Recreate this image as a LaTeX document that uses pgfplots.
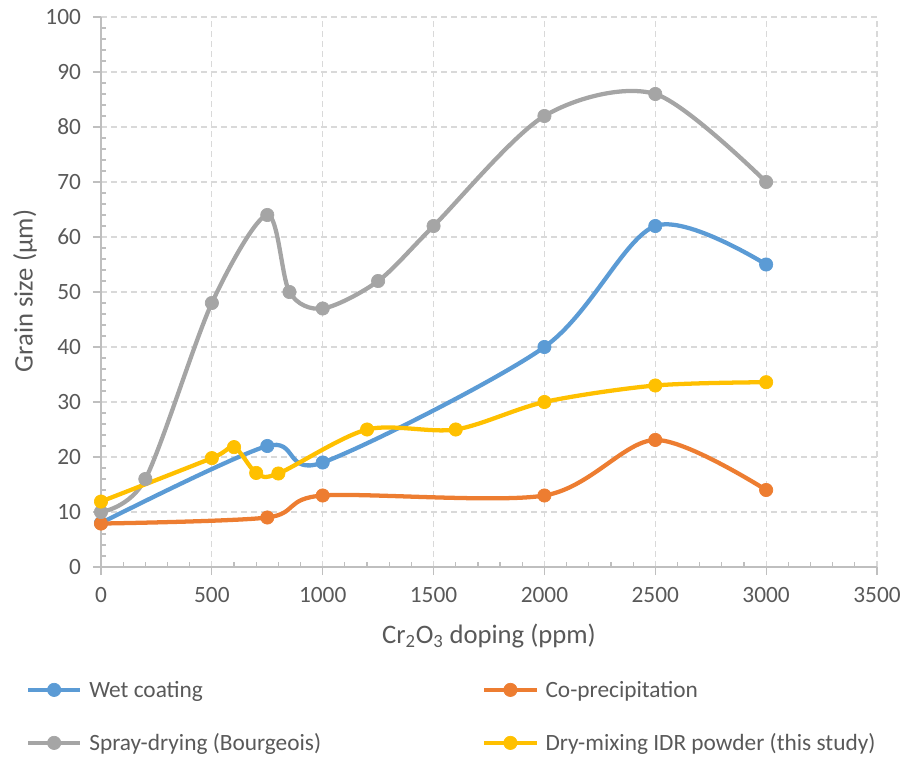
\documentclass[border=0pt]{standalone}
\usepackage{pgfplots}
\pgfplotsset{compat=1.18}
\usepackage{fontspec}
\setmainfont{Carlito}
\definecolor{cblue}{HTML}{5B9BD5}
\definecolor{corange}{HTML}{ED7D31}
\definecolor{cgrey}{HTML}{A5A5A5}
\definecolor{cyellow}{HTML}{FFC000}
\definecolor{txt}{HTML}{595959}
\definecolor{axc}{HTML}{BFBFBF}
\definecolor{gridc}{HTML}{D9D9D9}
\begin{document}
\begin{tikzpicture}
\useasboundingbox (-75.75pt,-142.5pt) rectangle (600pt,425.25pt);
\begin{axis}[
  at={(0,0)}, anchor=south west,
  scale only axis, width=582pt, height=412.5pt,
  xmin=0, xmax=3500, ymin=0, ymax=100,
  axis lines=left,
  axis line style={-, draw=axc, line width=1pt},
  xtick={0,500,...,3500}, ytick={0,10,...,100},
  minor x tick num=4, minor y tick num=4,
  grid=major,
  major grid style={gridc, dash pattern=on 4.5pt off 3pt, line width=0.9pt},
  tick align=outside, major tick length=6pt, minor tick length=3.75pt,
  tick style={axc, line width=0.9pt},
  minor x tick style={yshift=3.75pt},
  minor y tick style={xshift=3.75pt},
  tick label style={font=\fontsize{17.5}{21}\selectfont, text=txt},
  /pgf/number format/assume math mode=true,
  scaled ticks=false,
  xticklabel style={/pgf/number format/1000 sep={}, yshift=-5.5pt},
  yticklabel style={xshift=-5.5pt},
  label style={font=\fontsize{20}{24}\selectfont, text=txt},
  xlabel={Cr\textsubscript{2}O\textsubscript{3} doping (ppm)},
  ylabel={Grain size (μm)},
  xlabel style={at={(axis description cs:0.5,-0.1255)}, anchor=center},
  ylabel style={at={(axis description cs:-0.0979,0.502)}, anchor=center},
  clip=false,
  legend columns=2,
  legend style={draw=none, fill=none, at={(axis description cs:-0.0966,-0.2055)}, anchor=north west,
    inner sep=0pt, outer sep=0pt, row sep=22.25pt, column sep=0pt,
    font=\fontsize{17.5}{21}\selectfont, text=txt,
    nodes={inner sep=0pt, text height=13pt, text depth=4.5pt},
    cells={anchor=base west}},
  legend image code/.code={\draw[mark repeat=2,mark phase=2] plot coordinates {(0pt,5.6pt)(19.5pt,5.6pt)(39pt,5.6pt)}; \path (44.25pt,0pt);},
  every axis plot/.append style={line width=3.2pt, mark=*, mark size=5pt, smooth, mark options={solid, line width=0.5pt}},
]
\addplot[cblue] coordinates {(0,8) (750,22) (1000,19) (2000,40) (2500,62) (3000,55)};
\addlegendentry{\makebox[294.75pt][l]{Wet coating}}
\addplot[corange] coordinates {(0,7.9) (750,9) (1000,13) (2000,13) (2500,23.1) (3000,14)};
\addlegendentry{Co-precipitation}
\addplot[cgrey] coordinates {(0,10) (200,16) (500,48) (750,64) (850,50) (1000,47) (1250,52) (1500,62) (2000,82) (2500,86) (3000,70)};
\addlegendentry{\makebox[294.75pt][l]{Spray-drying (Bourgeois)}}
\addplot[cyellow] coordinates {(0,11.9) (500,19.8) (600,21.8) (700,17.1) (800,17) (1200,25) (1600,25) (2000,30) (2500,33) (3000,33.6)};
\addlegendentry{Dry-mixing IDR powder (this study)}
\end{axis}
\end{tikzpicture}
\end{document}
